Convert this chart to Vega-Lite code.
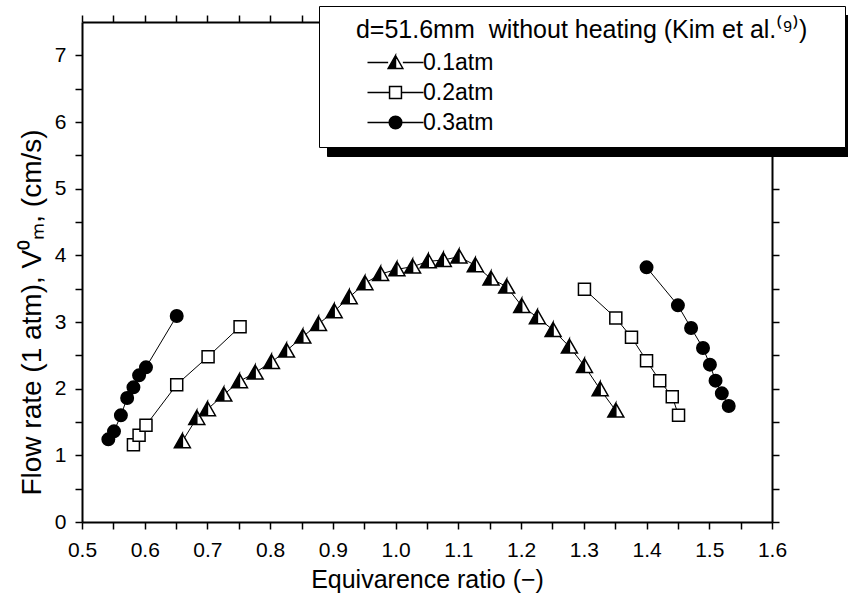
{
  "$schema": "https://vega.github.io/schema/vega-lite/v6.json",
  "autosize": {"type": "none"},
  "padding": {"left": 82, "top": 22, "right": 76, "bottom": 85},
  "width": 690,
  "height": 500,
  "background": "white",
  "config": {
    "view": {"stroke": null},
    "font": "Liberation Sans",
    "axis": {"labelFont": "Liberation Sans", "titleFont": "Liberation Sans", "labelColor": "black", "titleColor": "black", "domainColor": "black", "titleFontWeight": "normal", "grid": false, "domainWidth": 2}
  },
  "data": {"values": [
    {"s": "0.1atm", "g": "t", "x": 0.66, "y": 1.21},
    {"s": "0.1atm", "g": "t", "x": 0.683, "y": 1.56},
    {"s": "0.1atm", "g": "t", "x": 0.70, "y": 1.69},
    {"s": "0.1atm", "g": "t", "x": 0.726, "y": 1.91},
    {"s": "0.1atm", "g": "t", "x": 0.751, "y": 2.11},
    {"s": "0.1atm", "g": "t", "x": 0.776, "y": 2.24},
    {"s": "0.1atm", "g": "t", "x": 0.802, "y": 2.40},
    {"s": "0.1atm", "g": "t", "x": 0.826, "y": 2.57},
    {"s": "0.1atm", "g": "t", "x": 0.852, "y": 2.78},
    {"s": "0.1atm", "g": "t", "x": 0.877, "y": 2.97},
    {"s": "0.1atm", "g": "t", "x": 0.902, "y": 3.16},
    {"s": "0.1atm", "g": "t", "x": 0.926, "y": 3.37},
    {"s": "0.1atm", "g": "t", "x": 0.951, "y": 3.58},
    {"s": "0.1atm", "g": "t", "x": 0.976, "y": 3.72},
    {"s": "0.1atm", "g": "t", "x": 1.002, "y": 3.79},
    {"s": "0.1atm", "g": "t", "x": 1.027, "y": 3.83},
    {"s": "0.1atm", "g": "t", "x": 1.052, "y": 3.91},
    {"s": "0.1atm", "g": "t", "x": 1.076, "y": 3.93},
    {"s": "0.1atm", "g": "t", "x": 1.101, "y": 3.98},
    {"s": "0.1atm", "g": "t", "x": 1.127, "y": 3.85},
    {"s": "0.1atm", "g": "t", "x": 1.152, "y": 3.65},
    {"s": "0.1atm", "g": "t", "x": 1.177, "y": 3.53},
    {"s": "0.1atm", "g": "t", "x": 1.201, "y": 3.24},
    {"s": "0.1atm", "g": "t", "x": 1.226, "y": 3.07},
    {"s": "0.1atm", "g": "t", "x": 1.251, "y": 2.88},
    {"s": "0.1atm", "g": "t", "x": 1.277, "y": 2.63},
    {"s": "0.1atm", "g": "t", "x": 1.301, "y": 2.34},
    {"s": "0.1atm", "g": "t", "x": 1.326, "y": 1.99},
    {"s": "0.1atm", "g": "t", "x": 1.351, "y": 1.67},
    {"s": "0.2atm", "g": "sL", "x": 0.582, "y": 1.16},
    {"s": "0.2atm", "g": "sL", "x": 0.591, "y": 1.30},
    {"s": "0.2atm", "g": "sL", "x": 0.602, "y": 1.45},
    {"s": "0.2atm", "g": "sL", "x": 0.651, "y": 2.06},
    {"s": "0.2atm", "g": "sL", "x": 0.701, "y": 2.48},
    {"s": "0.2atm", "g": "sL", "x": 0.752, "y": 2.93},
    {"s": "0.2atm", "g": "sR", "x": 1.301, "y": 3.49},
    {"s": "0.2atm", "g": "sR", "x": 1.351, "y": 3.06},
    {"s": "0.2atm", "g": "sR", "x": 1.376, "y": 2.77},
    {"s": "0.2atm", "g": "sR", "x": 1.400, "y": 2.42},
    {"s": "0.2atm", "g": "sR", "x": 1.421, "y": 2.12},
    {"s": "0.2atm", "g": "sR", "x": 1.441, "y": 1.88},
    {"s": "0.2atm", "g": "sR", "x": 1.451, "y": 1.60},
    {"s": "0.3atm", "g": "cL", "x": 0.542, "y": 1.24},
    {"s": "0.3atm", "g": "cL", "x": 0.551, "y": 1.36},
    {"s": "0.3atm", "g": "cL", "x": 0.562, "y": 1.60},
    {"s": "0.3atm", "g": "cL", "x": 0.572, "y": 1.86},
    {"s": "0.3atm", "g": "cL", "x": 0.582, "y": 2.02},
    {"s": "0.3atm", "g": "cL", "x": 0.591, "y": 2.20},
    {"s": "0.3atm", "g": "cL", "x": 0.602, "y": 2.32},
    {"s": "0.3atm", "g": "cL", "x": 0.651, "y": 3.09},
    {"s": "0.3atm", "g": "cR", "x": 1.400, "y": 3.82},
    {"s": "0.3atm", "g": "cR", "x": 1.450, "y": 3.25},
    {"s": "0.3atm", "g": "cR", "x": 1.471, "y": 2.91},
    {"s": "0.3atm", "g": "cR", "x": 1.490, "y": 2.61},
    {"s": "0.3atm", "g": "cR", "x": 1.501, "y": 2.36},
    {"s": "0.3atm", "g": "cR", "x": 1.510, "y": 2.12},
    {"s": "0.3atm", "g": "cR", "x": 1.520, "y": 1.93},
    {"s": "0.3atm", "g": "cR", "x": 1.531, "y": 1.74}
  ]},
  "resolve": {
    "axis": {"x": "independent", "y": "independent"},
    "scale": {"shape": "independent", "fill": "independent", "stroke": "independent", "strokeDash": "independent"}
  },
  "layer": [
    {
      "mark": {"type": "line", "color": "black", "strokeWidth": 1},
      "encoding": {
        "x": {"field": "x", "type": "quantitative", "scale": {"domain": [0.5, 1.6], "nice": false, "zero": false},
          "axis": {"orient": "bottom", "title": "Equivarence ratio (\u2212)", "titleFontSize": 25, "titlePadding": 7,
            "values": [0.5,0.55,0.6,0.65,0.7,0.75,0.8,0.85,0.9,0.95,1.0,1.05,1.1,1.15,1.2,1.25,1.3,1.35,1.4,1.45,1.5,1.55,1.6],
            "labelExpr": "round(datum.value*20) % 2 == 0 ? format(datum.value, '.1f') : ''",
            "labelFontSize": 21, "labelPadding": 10, "labelFlush": false, "labelOverlap": false,
            "ticks": true, "tickSize": 7, "tickColor": "black", "tickWidth": 1.5}},
        "y": {"field": "y", "type": "quantitative", "scale": {"domain": [0, 7.5], "nice": false, "zero": false},
          "axis": {"orient": "left", "title": "Flow rate (1 atm), V\u2070\u2098, (cm/s)", "titleFontSize": 28, "titlePadding": 8, "titleY": 290,
            "values": [0,0.5,1,1.5,2,2.5,3,3.5,4,4.5,5,5.5,6,6.5,7],
            "labelExpr": "round(datum.value*2) % 2 == 0 ? format(datum.value, 'd') : ''",
            "labelFontSize": 21, "labelPadding": 9, "labelFlush": false, "labelOverlap": false,
            "ticks": true, "tickSize": 7, "tickColor": "black", "tickWidth": 1.5}},
        "detail": {"field": "g", "type": "nominal"}
      }
    },
    {
      "transform": [{"filter": "datum.s == '0.1atm'"}],
      "mark": {"type": "point", "shape": "M0,-0.95L-1,0.8L1,0.8Z", "size": 256, "filled": true, "fill": "white", "strokeWidth": 0, "opacity": 1},
      "encoding": {
        "x": {"field": "x", "type": "quantitative", "axis": null},
        "y": {"field": "y", "type": "quantitative", "axis": null}
      }
    },
    {
      "mark": {"type": "point", "size": 256, "stroke": "black", "strokeWidth": 1.5, "opacity": 1, "fillOpacity": 1},
      "encoding": {
        "x": {"field": "x", "type": "quantitative", "axis": null},
        "y": {"field": "y", "type": "quantitative", "axis": null},
        "shape": {"field": "s", "type": "nominal", "legend": null,
          "scale": {"domain": ["0.1atm", "0.2atm", "0.3atm"], "range": ["M0,-0.95L-1,0.8L0,0.8ZM0,-0.95L1,0.8L0,0.8L1,0.8Z", "M-0.75,-0.75H0.75V0.75H-0.75Z", "M-0.78,0A0.78,0.78,0,1,0,0.78,0A0.78,0.78,0,1,0,-0.78,0Z"]}},
        "fill": {"field": "s", "type": "nominal", "legend": null,
          "scale": {"domain": ["0.1atm", "0.2atm", "0.3atm"], "range": ["black", "white", "black"]}}
      }
    },
    {
      "transform": [{"filter": "false"}],
      "mark": {"type": "point", "size": 196, "strokeWidth": 1.5, "filled": true, "opacity": 1},
      "encoding": {
        "x": {"field": "x", "type": "quantitative", "axis": null},
        "y": {"field": "y", "type": "quantitative", "axis": null},
        "shape": {"field": "s", "type": "nominal",
          "scale": {"domain": ["0.1atm", "0.2atm", "0.3atm"], "range": ["M-4,0H-1.05M1.05,0H4M0,-1L-1.05,0.85L0,0.85ZM0,-1L1.05,0.85L0,0.85L1.05,0.85Z", "M-4,0H-0.85M0.85,0H4M-0.85,-0.85H0.85V0.85H-0.85Z", "M-4,0H-0.9M0.9,0H4M-0.9,0A0.9,0.9,0,1,0,0.9,0A0.9,0.9,0,1,0,-0.9,0Z"]},
          "legend": {"title": "\u2800\u00a0d=51.6mm\u00a0 without heating (Kim et al.\u207d\u2079\u207e)\u00a0\u2800", "orient": "none", "legendX": 237, "legendY": -16, "zindex": 2,
            "padding": 12, "fillColor": "white", "strokeColor": "black", "titleLimit": 1000, "labelLimit": 400,
            "titleFont": "Liberation Sans", "titleFontSize": 25, "titleFontWeight": "normal", "titleColor": "black", "titlePadding": 8,
            "labelFont": "Liberation Sans", "labelFontSize": 23, "labelColor": "black", "labelOffset": 16,
            "symbolSize": 196, "symbolOffset": 53, "symbolStrokeWidth": 1.5, "rowPadding": 6}},
        "fill": {"field": "s", "type": "nominal",
          "scale": {"domain": ["0.1atm", "0.2atm", "0.3atm"], "range": ["black", "white", "black"]},
          "legend": {"title": "\u2800\u00a0d=51.6mm\u00a0 without heating (Kim et al.\u207d\u2079\u207e)\u00a0\u2800", "orient": "none", "legendX": 237, "legendY": -16, "zindex": 2,
            "padding": 12, "fillColor": "white", "strokeColor": "black", "titleLimit": 1000, "labelLimit": 400,
            "titleFont": "Liberation Sans", "titleFontSize": 25, "titleFontWeight": "normal", "titleColor": "black", "titlePadding": 8,
            "labelFont": "Liberation Sans", "labelFontSize": 23, "labelColor": "black", "labelOffset": 16,
            "symbolSize": 196, "symbolOffset": 53, "symbolStrokeWidth": 1.5, "rowPadding": 6}},
        "stroke": {"field": "s", "type": "nominal",
          "scale": {"domain": ["0.1atm", "0.2atm", "0.3atm"], "range": ["black", "black", "black"]},
          "legend": {"title": "\u2800\u00a0d=51.6mm\u00a0 without heating (Kim et al.\u207d\u2079\u207e)\u00a0\u2800", "orient": "none", "legendX": 237, "legendY": -16, "zindex": 2,
            "padding": 12, "fillColor": "white", "strokeColor": "black", "titleLimit": 1000, "labelLimit": 400,
            "titleFont": "Liberation Sans", "titleFontSize": 25, "titleFontWeight": "normal", "titleColor": "black", "titlePadding": 8,
            "labelFont": "Liberation Sans", "labelFontSize": 23, "labelColor": "black", "labelOffset": 16,
            "symbolSize": 196, "symbolOffset": 53, "symbolStrokeWidth": 1.5, "rowPadding": 6}}
      }
    },
    {
      "mark": {"type": "point", "opacity": 0},
      "encoding": {
        "x": {"field": "x", "type": "quantitative",
          "axis": {"orient": "top", "title": null, "labels": false, "ticks": true, "tickSize": 7, "tickColor": "black", "tickWidth": 1.5,
            "values": [0.5,0.55,0.6,0.65,0.7,0.75,0.8,0.85,0.9,0.95,1.0,1.05,1.1,1.15,1.2,1.25,1.3,1.35,1.4,1.45,1.5,1.55,1.6]}},
        "y": {"field": "y", "type": "quantitative",
          "axis": {"orient": "right", "title": null, "labels": false, "ticks": true, "tickSize": 7, "tickColor": "black", "tickWidth": 1.5,
            "values": [0,0.5,1,1.5,2,2.5,3,3.5,4,4.5,5,5.5,6,6.5,7]}},
        "strokeDash": {"field": "s", "type": "nominal",
          "scale": {"domain": ["0.3atm", "0.2atm", "0.1atm"], "range": [[1, 0], [1, 0], [1, 0]]},
          "legend": {"title": "\u2800\u00a0d=51.6mm\u00a0 without heating (Kim et al.\u207d\u2079\u207e)\u00a0\u2800", "orient": "none", "legendX": 245, "legendY": -7, "zindex": 1,
            "padding": 12, "fillColor": "black", "strokeColor": "black", "titleLimit": 1000, "labelLimit": 400,
            "titleFont": "Liberation Sans", "titleFontSize": 25, "titleFontWeight": "normal", "titleColor": "black", "titlePadding": 8,
            "labelFont": "Liberation Sans", "labelFontSize": 23, "labelColor": "black", "labelOffset": 16,
            "symbolSize": 196, "symbolOffset": 53, "symbolOpacity": 0, "symbolType": "circle", "rowPadding": 6}}
      }
    }
  ]
}
